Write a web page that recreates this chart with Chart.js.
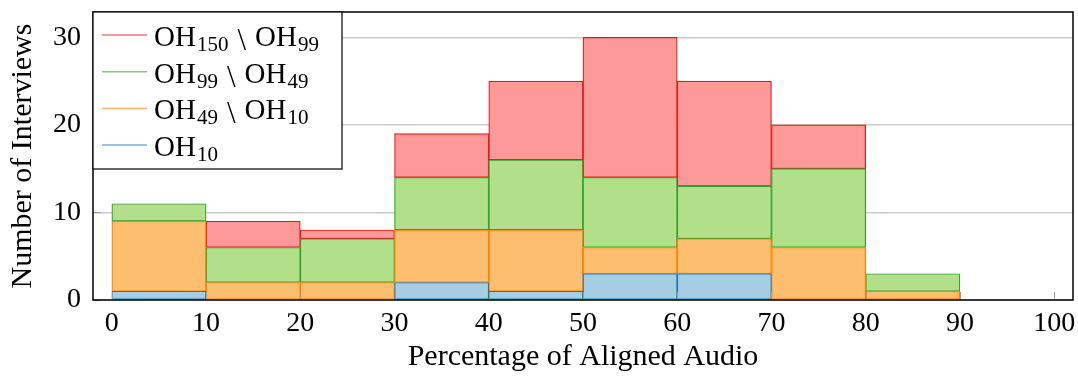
<!DOCTYPE html>
<html>
<head>
<meta charset="utf-8">
<script src="https://cdn.jsdelivr.net/npm/chart.js@4.4.1/dist/chart.umd.min.js"></script>
<style>
  html, body { margin: 0; padding: 0; background: #fff; }
  #wrap { width: 1078px; height: 376px; }
</style>
</head>
<body>
<div id="wrap"><canvas id="histChart" width="1078" height="376"></canvas></div>
<script>
// bins are 10 wide; each bar sits at the bin centre
const binCentres = [5, 15, 25, 35, 45, 55, 65, 75, 85, 95];
const oh10      = [1, 0, 0, 2, 1, 3, 3, 0, 0, 0];
const oh49minus10 = [8, 2, 2, 6, 7, 3, 4, 6, 1, 0];
const oh99minus49 = [2, 4, 5, 6, 8, 8, 6, 9, 2, 0];
const oh150minus99 = [0, 3, 1, 5, 9, 16, 12, 5, 0, 0];
const xTicks = [0, 10, 20, 30, 40, 50, 60, 70, 80, 90, 100];
const yTicks = [0, 10, 20, 30];

const FONT = "'Liberation Serif', 'Times New Roman', serif";

// legend labels: pairs of [main, subscript]
const seriesDefs = [
    { data: oh10,         fill: '#a6cee3', line: '#1f78b4', label: [['OH', '10']] },
    { data: oh49minus10,  fill: '#fdbf6f', line: '#ff7f00', label: [['OH', '49'], ['OH', '10']] },
    { data: oh99minus49,  fill: '#b2df8a', line: '#33a02c', label: [['OH', '99'], ['OH', '49']] },
    { data: oh150minus99, fill: '#fb9a99', line: '#e31a1c', label: [['OH', '150'], ['OH', '99']] },
];

const datasets = seriesDefs.map(s => ({
    data: s.data.map((v, i) => ({ x: binCentres[i], y: v === 0 ? null : v })),
    backgroundColor: s.fill,
    borderColor: s.line,
    borderWidth: 1.2,
    borderSkipped: false,
    barPercentage: 1,
    categoryPercentage: 1,
}));

// frame, inward tick marks and the pgfplots-like legend box
const framePlugin = {
    id: 'frame',
    afterDraw(chart) {
        const { ctx, chartArea: a, scales } = chart;
        ctx.save();
        // tick marks
        ctx.strokeStyle = '#9a9a9a';
        ctx.lineWidth = 1;
        xTicks.forEach(v => {
            const px = Math.round(scales.x.getPixelForValue(v)) + 0.5;
            ctx.beginPath();
            ctx.moveTo(px, a.bottom); ctx.lineTo(px, a.bottom - 8);
            ctx.stroke();
        });
        yTicks.forEach(v => {
            const py = Math.round(scales.y.getPixelForValue(v)) + 0.5;
            ctx.beginPath();
            ctx.moveTo(a.left, py); ctx.lineTo(a.left + 8, py);
            ctx.stroke();
        });
        ctx.strokeStyle = '#000';
        ctx.lineWidth = 1.5;
        ctx.strokeRect(a.left, a.top, a.right - a.left, a.bottom - a.top);

        // legend
        const lx = a.left, ly = a.top, lw = 249, lh = 157;
        ctx.fillStyle = '#fff';
        ctx.fillRect(lx, ly, lw, lh);
        ctx.strokeStyle = '#000';
        ctx.lineWidth = 1.2;
        ctx.strokeRect(lx, ly, lw, lh);
        const rows = seriesDefs.slice().reverse();
        rows.forEach((s, i) => {
            const base = ly + 34 + i * 36.7;
            ctx.strokeStyle = s.line;
            ctx.globalAlpha = 0.6;
            ctx.lineWidth = 1.5;
            ctx.beginPath();
            ctx.moveTo(lx + 9, base - 11); ctx.lineTo(lx + 54, base - 11);
            ctx.stroke();
            ctx.globalAlpha = 1;
            ctx.fillStyle = '#000';
            ctx.textBaseline = 'alphabetic';
            let tx = lx + 61;
            s.label.forEach((part, k) => {
                if (k > 0) {
                    ctx.font = '31px ' + FONT;
                    tx += 9;
                    ctx.fillText('\\', tx, base + 4);
                    tx += ctx.measureText('\\').width + 9;
                }
                ctx.font = '29px ' + FONT;
                ctx.fillText(part[0], tx, base);
                tx += ctx.measureText(part[0]).width + 1;
                ctx.font = '21px ' + FONT;
                ctx.fillText(part[1], tx, base + 5);
                tx += ctx.measureText(part[1]).width;
            });
        });
        ctx.restore();
    }
};

new Chart(document.getElementById('histChart'), {
    type: 'bar',
    data: { datasets },
    options: {
        responsive: false,
        animation: false,
        layout: { padding: { top: 12, right: 5, left: 0, bottom: 0 } },
        plugins: { legend: { display: false }, tooltip: { enabled: false } },
        scales: {
            x: {
                type: 'linear',
                stacked: true,
                offset: false,
                min: -2, max: 102,
                afterBuildTicks: s => { s.ticks = xTicks.map(v => ({ value: v })); },
                afterFit: s => { s.height = 76; s.paddingLeft = 0; s.paddingRight = 0; },
                grid: { display: false, drawTicks: false, offset: false },
                border: { display: false },
                ticks: { color: '#000', padding: 7, maxRotation: 0, autoSkip: false,
                         font: { family: FONT, size: 28 } },
                title: { display: true, text: 'Percentage of Aligned Audio', color: '#000',
                         padding: { top: 0, bottom: 1 }, font: { family: FONT, size: 30 } },
            },
            y: {
                stacked: true,
                min: 0, max: 32.9,
                afterBuildTicks: s => { s.ticks = yTicks.map(v => ({ value: v })); },
                afterFit: s => { s.width = 93; s.paddingTop = 0; s.paddingBottom = 0; },
                grid: { color: '#cccccc', lineWidth: 1.5, drawTicks: false },
                border: { display: false },
                ticks: { color: '#000', padding: 12, font: { family: FONT, size: 28 } },
                title: { display: true, text: 'Number of Interviews', color: '#000',
                         padding: { top: 5, bottom: 0 }, font: { family: FONT, size: 30 } },
            },
        },
    },
    plugins: [framePlugin],
});
</script>
</body>
</html>
